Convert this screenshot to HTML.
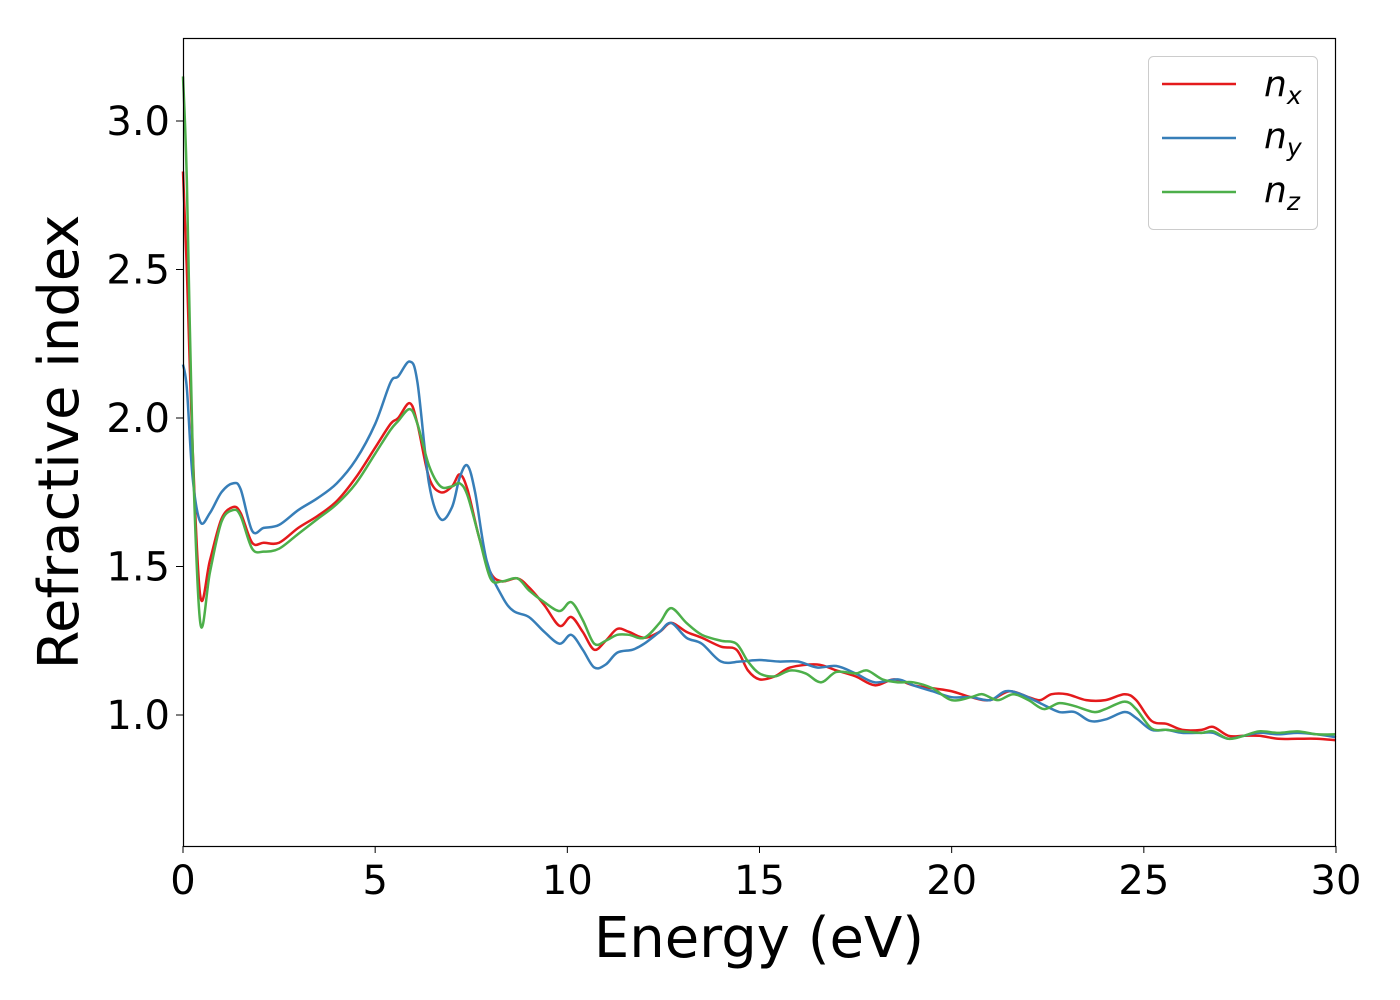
<!DOCTYPE html>
<html><head><meta charset="utf-8"><style>
body{margin:0;background:#fff}
svg{display:block;font-family:"DejaVu Sans","Liberation Sans",sans-serif}
</style></head><body>
<svg id="chart" width="1400" height="1000">
<rect x="0" y="0" width="1400" height="1000" fill="#fff"/>
<g id="series"></g>
<rect x="183.5" y="38.5" width="1152" height="808" fill="none" stroke="#000" stroke-width="1.2"/>
<g id="xticks"></g>
<g id="yticks"></g>
<text x="759" y="957" font-size="56" text-anchor="middle">Energy (eV)</text>
<text transform="translate(78,442) rotate(-90)" font-size="56" text-anchor="middle">Refractive index</text>
<g>
<rect x="1148.5" y="56.5" width="169" height="173" rx="5" fill="#fff" stroke="#ccc"/>
<g><line x1="1162" y1="84" x2="1236" y2="84" stroke="#e41a1c" stroke-width="2.5"/><text x="1264" y="96" font-size="36" font-style="italic">n<tspan font-size="25" dy="8">x</tspan></text></g>
<g><line x1="1162" y1="138" x2="1236" y2="138" stroke="#377eb8" stroke-width="2.5"/><text x="1264" y="148" font-size="36" font-style="italic">n<tspan font-size="25" dy="8">y</tspan></text></g>
<g><line x1="1162" y1="192" x2="1236" y2="192" stroke="#4daf4a" stroke-width="2.5"/><text x="1264" y="202" font-size="36" font-style="italic">n<tspan font-size="25" dy="8">z</tspan></text></g>
</g>
</svg>
<script>
const nxE=[0,0.1,0.25,0.45,0.7,1.0,1.3,1.5,1.8,2.1,2.5,3,3.5,4,4.5,5,5.4,5.6,5.9,6.1,6.4,6.7,7.0,7.2,7.4,7.7,8.0,8.3,8.7,9.0,9.4,9.8,10.1,10.4,10.7,11.0,11.3,11.6,12.0,12.4,12.7,13.1,13.5,14.0,14.4,14.7,15.0,15.4,15.8,16.5,17,17.5,18,18.5,19,19.5,20,20.5,21,21.5,22,22.3,22.6,23,23.5,24,24.5,24.8,25.2,25.6,26,26.5,26.8,27.2,27.6,28,28.5,29,29.5,30];
const nxV=[2.83,2.5,1.9,1.40,1.52,1.66,1.70,1.68,1.58,1.58,1.58,1.63,1.67,1.72,1.80,1.90,1.98,2.00,2.05,1.98,1.80,1.75,1.77,1.81,1.76,1.60,1.48,1.45,1.46,1.43,1.37,1.30,1.33,1.28,1.22,1.25,1.29,1.28,1.26,1.28,1.31,1.28,1.26,1.23,1.22,1.15,1.12,1.13,1.16,1.17,1.15,1.13,1.10,1.12,1.10,1.09,1.08,1.06,1.05,1.08,1.06,1.05,1.07,1.07,1.05,1.05,1.07,1.05,0.98,0.97,0.95,0.95,0.96,0.93,0.93,0.93,0.92,0.92,0.92,0.915];
const nyE=[0,0.1,0.25,0.45,0.7,1.0,1.3,1.5,1.8,2.1,2.5,3,3.5,4,4.5,5,5.4,5.6,5.9,6.1,6.4,6.7,7.0,7.2,7.4,7.6,7.9,8.3,8.6,9,9.4,9.8,10.1,10.4,10.7,11.0,11.3,11.7,12.0,12.4,12.7,13.1,13.5,14,14.5,15,15.5,16,16.5,17,17.5,18,18.6,19,19.5,20,20.5,21,21.4,21.8,22.3,22.8,23.2,23.6,24,24.5,24.8,25.2,25.6,26,26.5,26.8,27.2,27.6,28,28.5,29,29.5,30];
const nyV=[2.18,2.1,1.8,1.65,1.68,1.75,1.78,1.76,1.62,1.63,1.64,1.69,1.73,1.78,1.86,1.98,2.12,2.14,2.19,2.12,1.78,1.66,1.70,1.80,1.84,1.75,1.52,1.40,1.35,1.33,1.28,1.24,1.27,1.22,1.16,1.17,1.21,1.22,1.24,1.28,1.31,1.26,1.24,1.18,1.18,1.185,1.18,1.18,1.16,1.165,1.14,1.11,1.12,1.10,1.08,1.06,1.06,1.05,1.08,1.07,1.04,1.01,1.01,0.98,0.985,1.01,0.99,0.95,0.95,0.94,0.94,0.94,0.92,0.93,0.94,0.935,0.94,0.935,0.925];
const nzE=[0,0.1,0.25,0.45,0.7,1.0,1.3,1.5,1.8,2.1,2.5,3,3.5,4,4.5,5,5.4,5.6,5.9,6.1,6.4,6.7,7.0,7.2,7.4,7.7,8.0,8.3,8.7,9.0,9.4,9.8,10.1,10.4,10.7,11.0,11.3,11.6,12.0,12.4,12.7,13.1,13.5,14.0,14.4,14.7,15.0,15.4,15.8,16.2,16.6,17,17.5,17.8,18.2,18.6,19,19.5,20,20.5,20.8,21.2,21.6,22,22.4,22.8,23.2,23.7,24,24.5,24.8,25.2,25.6,26,26.5,26.8,27.2,27.6,28,28.5,29,29.5,30];
const nzV=[3.15,2.8,1.9,1.31,1.48,1.65,1.69,1.67,1.56,1.55,1.56,1.61,1.66,1.71,1.78,1.88,1.96,1.99,2.03,1.98,1.84,1.77,1.77,1.78,1.74,1.60,1.46,1.45,1.46,1.42,1.38,1.35,1.38,1.32,1.24,1.25,1.27,1.27,1.26,1.31,1.36,1.31,1.27,1.25,1.24,1.18,1.14,1.13,1.15,1.14,1.11,1.145,1.14,1.15,1.12,1.11,1.11,1.09,1.05,1.06,1.07,1.05,1.07,1.05,1.02,1.04,1.03,1.01,1.02,1.045,1.02,0.955,0.95,0.945,0.94,0.945,0.92,0.93,0.945,0.94,0.945,0.935,0.935];
const xTicks=[0,5,10,15,20,25,30];
const yTicks=[1.0,1.5,2.0,2.5,3.0];
const X=e=>183+(e/30)*1153;
const Y=v=>715-(v-1.0)*297;
const NS='http://www.w3.org/2000/svg';
function pathD(es,vs){
  const p=es.map((e,i)=>[X(e),Y(vs[i])]);
  let d='M'+p[0][0]+','+p[0][1];
  for(let i=0;i<p.length-1;i++){
    const p0=p[i-1]||p[i],p1=p[i],p2=p[i+1],p3=p[i+2]||p2;
    const c1=[p1[0]+(p2[0]-p0[0])/6,p1[1]+(p2[1]-p0[1])/6];
    const c2=[p2[0]-(p3[0]-p1[0])/6,p2[1]-(p3[1]-p1[1])/6];
    d+=' C'+c1+' '+c2+' '+p2;
  }
  return d;
}
const g=document.getElementById('series');
[[nxE,nxV,'#e41a1c','nx'],[nyE,nyV,'#377eb8','ny'],[nzE,nzV,'#4daf4a','nz']].forEach(s=>{
  const el=document.createElementNS(NS,'path');
  el.setAttribute('d',pathD(s[0],s[1]));
  el.setAttribute('fill','none');el.setAttribute('stroke',s[2]);el.setAttribute('stroke-width','2.5');
  
  
  g.appendChild(el);
});
const xg=document.getElementById('xticks');
xTicks.forEach(t=>{
  const l=document.createElementNS(NS,'line');
  l.setAttribute('x1',X(t));l.setAttribute('x2',X(t));l.setAttribute('y1',846);l.setAttribute('y2',853);l.setAttribute('stroke','#000');
  
  
  xg.appendChild(l);
  const tx=document.createElementNS(NS,'text');
  tx.setAttribute('x',X(t));tx.setAttribute('y',894);tx.setAttribute('font-size','40');tx.setAttribute('text-anchor','middle');
  tx.textContent=t;
  
  
  xg.appendChild(tx);
});
const yg=document.getElementById('yticks');
yTicks.forEach(t=>{
  const l=document.createElementNS(NS,'line');
  l.setAttribute('x1',176);l.setAttribute('x2',183);l.setAttribute('y1',Y(t));l.setAttribute('y2',Y(t));l.setAttribute('stroke','#000');
  
  
  yg.appendChild(l);
  const tx=document.createElementNS(NS,'text');
  tx.setAttribute('x',170);tx.setAttribute('y',Y(t)+14);tx.setAttribute('font-size','40');tx.setAttribute('text-anchor','end');
  tx.textContent=t.toFixed(1);
  
  
  yg.appendChild(tx);
});
</script>
</body></html>
